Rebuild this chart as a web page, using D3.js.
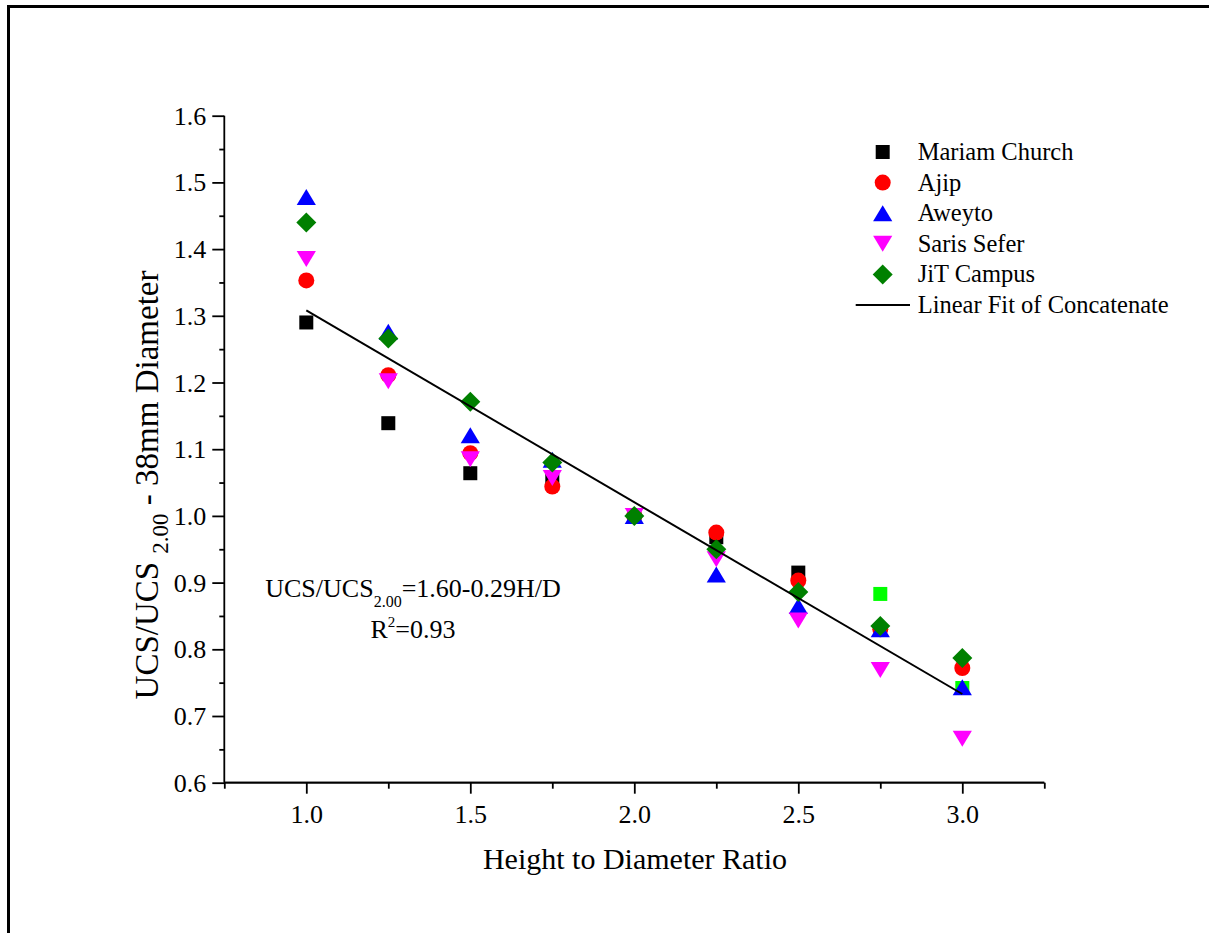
<!DOCTYPE html>
<html><head><meta charset="utf-8">
<script src="https://cdn.jsdelivr.net/npm/d3@7"></script>
<style>
body{margin:0;background:#fff}
svg{display:block}
text{font-family:"Liberation Serif","Times New Roman",serif;fill:#000}
</style>
</head><body>
<svg id="chart" width="1209" height="933"></svg>
<script>
// ---- data ----
const hdRatio      = [1.0, 1.25, 1.5, 1.75, 2.0, 2.25, 2.5, 2.75, 3.0];
const mariamChurch = [1.290, 1.139, 1.064, 1.053, 1.000, 0.968, 0.915, null, null];
const ajip         = [1.353, 1.211, 1.094, 1.044, 1.000, 0.975, 0.903, 0.830, 0.772];
const aweyto       = [1.478, 1.276, 1.121, 1.084, 1.000, 0.912, 0.865, 0.830, 0.743];
const sarisSefer   = [1.385, 1.202, 1.085, 1.057, 1.000, 0.935, 0.843, 0.769, 0.666];
const jitCampus    = [1.440, 1.266, 1.171, 1.080, 1.000, 0.950, 0.886, 0.835, 0.787];
const unlabeled    = [null, null, null, null, null, null, null, 0.883, 0.742];
const fitX = [1.0, 3.0];
const fitY = [1.308, 0.733];
const xTickValues = [1.0, 1.5, 2.0, 2.5, 3.0];
const xMinorValues = [0.75, 1.25, 1.75, 2.25, 2.75, 3.25];
const yTickValues = [0.6, 0.7, 0.8, 0.9, 1.0, 1.1, 1.2, 1.3, 1.4, 1.5, 1.6];
const yMinorValues = [0.65, 0.75, 0.85, 0.95, 1.05, 1.15, 1.25, 1.35, 1.45, 1.55];
const legendLabels = ["Mariam Church", "Ajip", "Aweyto", "Saris Sefer", "JiT Campus", "Linear Fit of Concatenate"];

const svg = d3.select("#chart");
const x = d3.scaleLinear().domain([0.75, 3.25]).range([224.3, 1044.3]);
const y = d3.scaleLinear().domain([0.6, 1.6]).range([782.7, 115.7]);

// page frame
svg.append("path").attr("d", "M8.5,933 V6.5 H1209").attr("fill", "none")
  .attr("stroke", "#000").attr("stroke-width", 3);

// symbol shapes
const shapes = {
  square: "M-7,-7h14v14h-14z",
  circle: d3.arc()({innerRadius:0, outerRadius:8, startAngle:0, endAngle:2*Math.PI}),
  up: "M0,-8L9.6,8L-9.6,8Z",
  down: "M0,8L9.6,-8L-9.6,-8Z",
  diamond: "M0,-10L10,0L0,10L-10,0Z"
};

const series = [
  {vals: mariamChurch, shape: "square", color: "#000000"},
  {vals: unlabeled, shape: "square", color: "#00FF00"},
  {vals: ajip, shape: "circle", color: "#FF0000"},
  {vals: aweyto, shape: "up", color: "#0000FF"},
  {vals: sarisSefer, shape: "down", color: "#FF00FF"},
  {vals: jitCampus, shape: "diamond", color: "#008000"}
];

// axes
const axisW = 1.8;
const tickFont = 26;
const gx = svg.append("g").attr("transform", `translate(0,${y(0.6)})`);
gx.call(d3.axisBottom(x).tickValues(xMinorValues).tickSize(6).tickFormat(""));
gx.selectAll(".tick line").attr("stroke-width", axisW);
const gx2 = svg.append("g").attr("transform", `translate(0,${y(0.6)})`);
gx2.call(d3.axisBottom(x).tickValues(xTickValues).tickSize(11).tickFormat(d3.format(".1f")));
gx2.selectAll(".tick line").attr("stroke-width", axisW);
gx2.selectAll(".tick text").attr("y", 40).attr("dy", 0).attr("font-size", tickFont)
  .attr("font-family", '"Liberation Serif", serif');
svg.selectAll(".domain").attr("stroke-width", axisW).attr("d", `M${x(0.75)},0H${x(3.25)}`);

const gy = svg.append("g").attr("transform", `translate(${x(0.75)},0)`);
gy.call(d3.axisLeft(y).tickValues(yMinorValues).tickSize(5).tickFormat(""));
gy.selectAll(".tick line").attr("stroke-width", axisW);
gy.select(".domain").remove();
const gy2 = svg.append("g").attr("transform", `translate(${x(0.75)},0)`);
gy2.call(d3.axisLeft(y).tickValues(yTickValues).tickSize(12).tickFormat(d3.format(".1f")));
gy2.selectAll(".tick line").attr("stroke-width", axisW);
gy2.select(".domain").attr("stroke-width", axisW).attr("d", `M0,${y(1.6)}V${y(0.6)}`);
gy2.selectAll(".tick text").attr("x", -18).attr("dy", "0.33em").attr("font-size", tickFont)
  .attr("font-family", '"Liberation Serif", serif');

// markers
series.forEach(s => {
  svg.append("g").selectAll("path")
    .data(hdRatio.map((h, i) => [h, s.vals[i]]).filter(d => d[1] !== null))
    .join("path")
    .attr("d", shapes[s.shape])
    .attr("fill", s.color)
    .attr("transform", d => `translate(${x(d[0])},${y(d[1])})`);
});

// fit line
svg.append("path")
  .attr("d", d3.line()(fitX.map((v, i) => [x(v), y(fitY[i])])))
  .attr("stroke", "#000").attr("stroke-width", 2).attr("fill", "none");

// legend
const legY0 = 152, legStep = 30.6;
series.filter(s => s.vals !== unlabeled).forEach((s, i) => {
  svg.append("path").attr("d", shapes[s.shape]).attr("fill", s.color)
    .attr("transform", `translate(882.7,${legY0 + i*legStep})`);
});
svg.append("line").attr("x1", 855.7).attr("x2", 910)
  .attr("y1", legY0 + 5*legStep).attr("y2", legY0 + 5*legStep)
  .attr("stroke", "#000").attr("stroke-width", 2);
legendLabels.forEach((t, i) => {
  svg.append("text").attr("x", 917.7).attr("y", legY0 + i*legStep + 8)
    .attr("font-size", 24.5).text(t);
});

// axis titles
svg.append("text").attr("x", 635).attr("y", 869).attr("text-anchor", "middle")
  .attr("font-size", 30).text("Height to Diameter Ratio");

const yt = svg.append("text").attr("transform", "translate(158,485) rotate(-90)")
  .attr("text-anchor", "middle").attr("font-size", 33);
yt.append("tspan").text("UCS/UCS ");
yt.append("tspan").attr("font-size", 23).attr("dy", 10).text("2.00");
yt.append("tspan").attr("dy", -10).text(" - 38mm Diameter");

// annotation
const a1 = svg.append("text").attr("x", 413).attr("y", 597).attr("text-anchor", "middle")
  .attr("font-size", 26);
a1.append("tspan").text("UCS/UCS");
a1.append("tspan").attr("font-size", 16).attr("dy", 10).text("2.00");
a1.append("tspan").attr("dy", -10).text("=1.60-0.29H/D");
const a2 = svg.append("text").attr("x", 413).attr("y", 638).attr("text-anchor", "middle")
  .attr("font-size", 26);
a2.append("tspan").text("R");
a2.append("tspan").attr("font-size", 15).attr("dy", -11).text("2");
a2.append("tspan").attr("dy", 11).text("=0.93");
</script>
</body></html>
